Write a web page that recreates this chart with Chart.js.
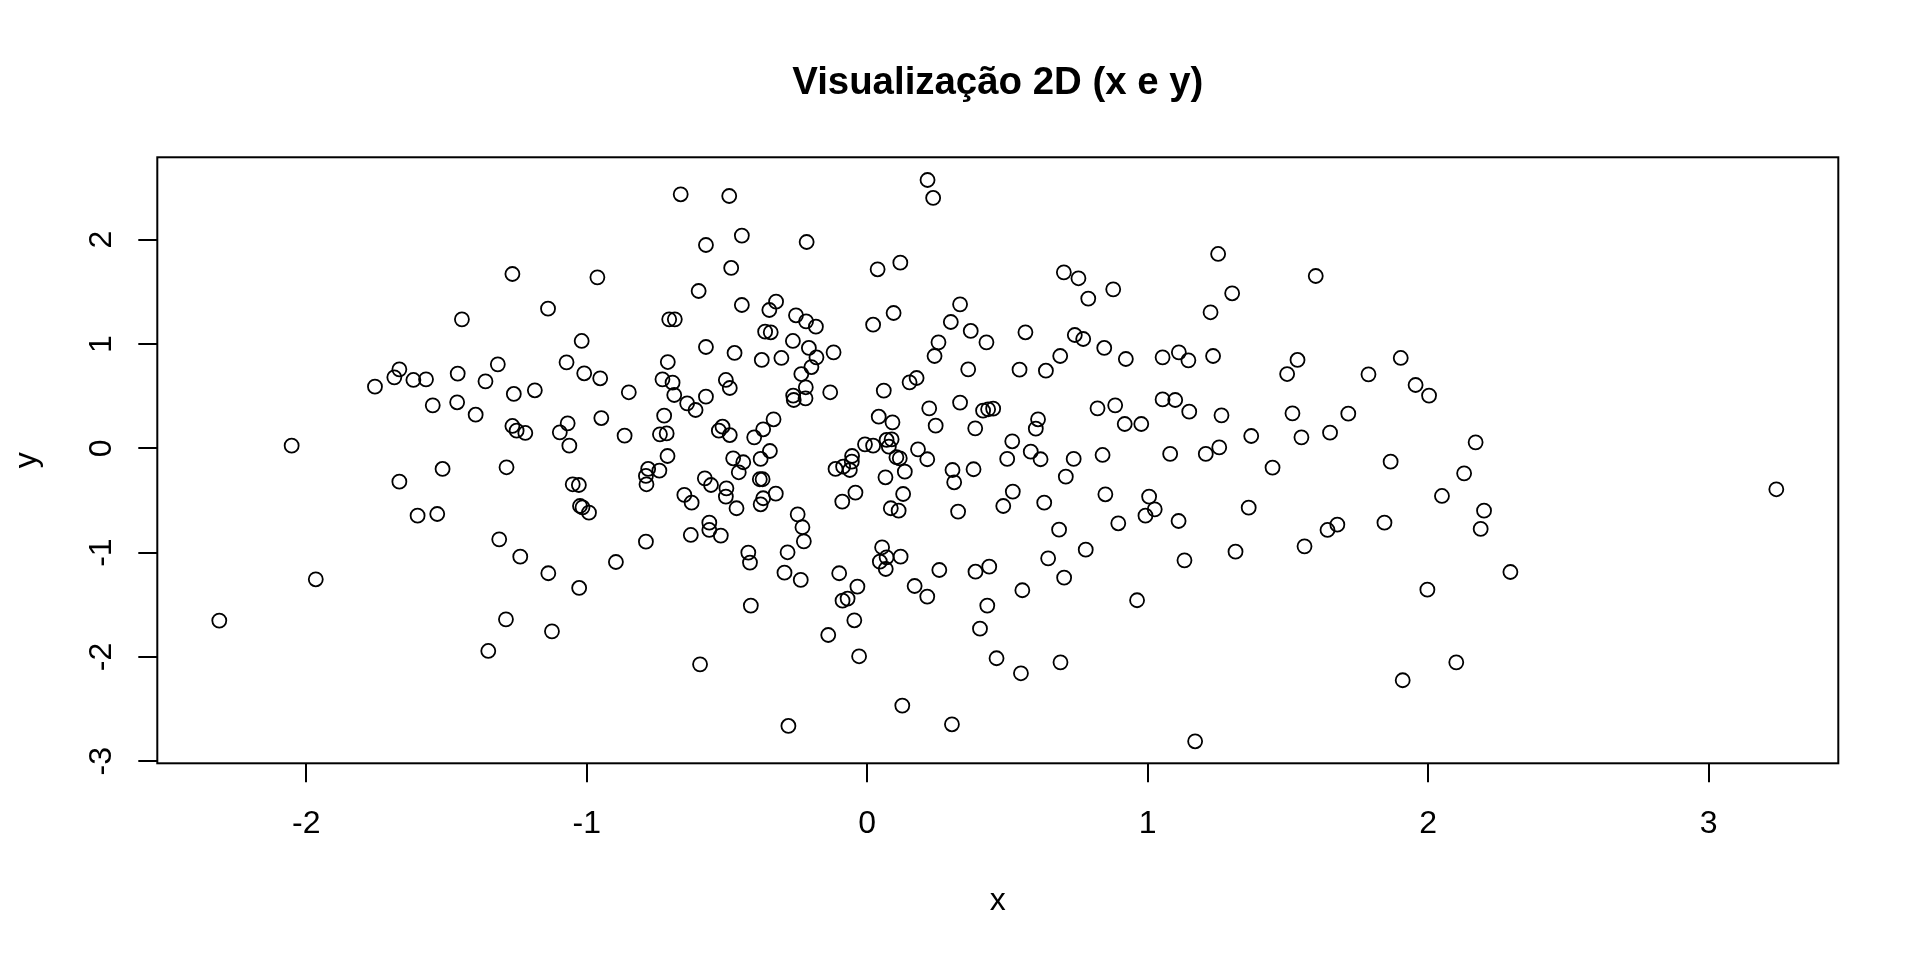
<!DOCTYPE html>
<html>
<head>
<meta charset="utf-8">
<script src="https://cdn.jsdelivr.net/npm/chart.js"></script>
<style>
html,body{margin:0;padding:0;background:#fff;}
#c{display:block;}
</style>
</head>
<body>
<canvas id="c" width="1920" height="960"></canvas>
<script>
const titleText = "Visualização 2D (x e y)";
const xAxisLabel = "x";
const yAxisLabel = "y";
const xTickValues = [-2, -1, 0, 1, 2, 3];
const yTickValues = [-3, -2, -1, 0, 1, 2];
const xRange = [-2.531, 3.462];
const yRange = [-3.020, 2.790];

const xValues = [
  -1.668,-1.686,-1.755,-1.618,-1.573,-1.549,-2.052,
  -0.665,-0.575,-1.265,-0.962,-0.601,-1.138,-1.445,-0.706,-0.686,-1.018,-0.575,-1.317,-1.072,-0.711,-1.460,-1.009,-1.361,-0.952,-0.730,-0.694,-1.260,-1.185,-0.850,-0.688,-0.575,-0.642,-0.612,-1.462,-1.396,-0.948,-0.724,-1.265,-1.250,-1.219,-1.068,-1.096,-1.062,-0.865,-0.739,-0.715,
  0.215,0.235,-0.492,-0.447,-0.216,-0.485,0.037,0.118,-0.447,-0.325,-0.349,-0.254,-0.218,-0.183,0.021,0.094,0.331,0.298,0.369,0.425,0.254,0.240,-0.364,-0.344,-0.265,-0.208,-0.181,-0.120,-0.473,-0.376,-0.306,-0.199,-0.235,-0.504,-0.490,-0.219,-0.264,-0.262,-0.220,-0.132,0.059,0.151,0.176,0.360,0.221,0.331,0.244,0.385,0.413,0.431,0.449,0.041,0.090,-0.334,-0.371,-0.403,-0.529,-0.516,-0.490,-0.008,0.021,0.069,0.087,0.077,0.181,-0.347,
  1.251,0.701,0.753,0.788,0.877,1.301,1.224,0.564,0.740,0.770,0.845,0.922,1.053,1.111,1.145,1.233,0.688,0.543,0.637,1.053,1.098,1.148,1.263,0.884,0.821,0.918,0.977,0.609,0.601,0.517,0.583,1.255,1.369,
  1.599,1.534,1.497,1.787,1.902,1.955,2.003,1.516,1.715,1.548,1.650,2.169,
  -1.668,-1.603,-1.966,-2.310,
  -0.712,-1.514,-1.286,-0.781,-0.789,-0.741,-0.787,-1.050,-1.028,-1.024,-1.015,-0.992,-0.579,-0.557,-0.652,-0.626,-1.533,-0.563,-0.563,-0.629,-0.789,-1.312,-1.237,-1.137,-0.896,-1.027,-1.288,-1.124,-1.351,-0.596,
  -0.478,-0.442,-0.380,-0.458,-0.502,-0.504,-0.466,-0.383,-0.373,-0.371,-0.380,-0.326,-0.248,-0.231,-0.226,-0.522,-0.424,-0.418,-0.284,-0.295,-0.237,-0.415,-0.113,-0.086,-0.062,-0.054,-0.055,0.104,0.116,0.214,0.134,0.065,-0.042,-0.089,0.128,0.084,0.112,0.304,0.310,0.379,0.324,0.053,0.069,0.045,0.066,0.119,-0.100,-0.035,-0.088,-0.070,-0.046,-0.139,-0.029,0.169,0.214,0.257,0.386,0.435,0.428,0.402,0.125,-0.281,0.302,
  0.499,0.618,0.736,0.839,1.080,1.207,1.445,0.708,0.519,0.485,0.631,0.849,1.005,1.025,0.992,0.895,1.110,1.360,0.684,0.779,0.645,0.702,0.553,1.131,1.313,0.962,0.461,0.548,0.689,1.169,
  1.866,2.128,2.049,2.199,2.187,1.844,1.676,1.641,1.559,2.293,1.997,2.100,1.909,
  3.241
];

const yValues = [
  0.757,0.680,0.591,0.655,0.661,0.412,0.025,
  2.435,1.949,1.671,1.639,1.508,1.339,1.236,1.236,1.236,1.029,0.971,0.805,0.824,0.827,0.716,0.719,0.642,0.671,0.661,0.629,0.521,0.556,0.537,0.511,0.495,0.431,0.367,0.441,0.322,0.290,0.313,0.214,0.169,0.147,0.239,0.153,0.025,0.121,0.134,0.143,
  2.572,2.400,2.419,2.039,1.978,1.729,1.716,1.780,1.374,1.406,1.326,1.275,1.217,1.166,1.185,1.297,1.380,1.211,1.125,1.016,1.016,0.885,1.118,1.112,1.029,0.962,0.872,0.920,0.914,0.847,0.866,0.779,0.712,0.655,0.578,0.585,0.505,0.463,0.479,0.537,0.553,0.632,0.674,0.757,0.383,0.438,0.217,0.191,0.361,0.374,0.380,0.303,0.249,0.278,0.182,0.105,0.169,0.207,0.127,0.038,0.025,0.080,0.086,0.016,-0.010,-0.026,
  1.863,1.687,1.630,1.435,1.524,1.486,1.304,1.112,1.086,1.048,0.962,0.856,0.872,0.920,0.843,0.885,0.885,0.754,0.744,0.469,0.463,0.351,0.316,0.412,0.383,0.233,0.233,0.278,0.188,0.067,-0.032,0.009,0.118,
  1.652,0.847,0.712,0.709,0.866,0.607,0.505,0.335,0.332,0.105,0.150,0.057,
  -0.320,-0.646,-1.256,-1.652,
  -0.074,-0.198,-0.182,-0.198,-0.265,-0.214,-0.345,-0.345,-0.352,-0.553,-0.566,-0.617,-0.288,-0.352,-0.447,-0.521,-0.630,-0.713,-0.783,-0.831,-0.895,-0.873,-1.039,-1.198,-1.090,-1.339,-1.640,-1.755,-1.943,-2.071,
  -0.096,-0.134,-0.102,-0.230,-0.384,-0.463,-0.575,-0.297,-0.297,-0.479,-0.537,-0.435,-0.633,-0.757,-0.892,-0.837,-1.000,-1.096,-0.997,-1.192,-1.262,-1.508,-0.198,-0.176,-0.208,-0.074,-0.128,-0.086,-0.096,-0.105,-0.224,-0.278,-0.425,-0.511,-0.438,-0.575,-0.598,-0.208,-0.326,-0.201,-0.607,-0.949,-1.045,-1.087,-1.157,-1.039,-1.198,-1.326,-1.461,-1.441,-1.649,-1.790,-1.994,-1.320,-1.422,-1.167,-1.183,-1.135,-1.508,-1.729,-2.467,-2.662,-2.646,
  -0.102,-0.105,-0.102,-0.064,-0.054,-0.054,-0.185,-0.272,-0.415,-0.553,-0.521,-0.441,-0.463,-0.585,-0.646,-0.719,-0.697,-0.569,-0.780,-0.972,-1.055,-1.240,-1.361,-1.074,-0.991,-1.457,-2.013,-2.157,-2.052,-2.809,
  -0.128,-0.240,-0.457,-0.598,-0.773,-0.713,-0.732,-0.783,-0.940,-1.186,-1.355,-2.052,-2.224,
  -0.393
];

const points = xValues.map((x, i) => ({ x: x, y: yValues[i] }));

const FONT = "'Liberation Sans', Arial, Helvetica, sans-serif";
Chart.defaults.font.family = FONT;
Chart.defaults.color = '#000';

const boxPlugin = {
  id: 'plotBox',
  afterDatasetsDraw(chart) {
    const { ctx, chartArea: a } = chart;
    ctx.save();
    ctx.strokeStyle = '#000';
    ctx.lineWidth = 2;
    ctx.strokeRect(a.left, a.top, a.right - a.left, a.bottom - a.top);
    ctx.restore();
  }
};

const tickGrid = {
  display: true,
  drawOnChartArea: false,
  drawTicks: true,
  tickLength: 19,
  color: '#000',
  tickColor: '#000',
  lineWidth: 2,
  tickWidth: 2
};

new Chart(document.getElementById('c'), {
  type: 'scatter',
  data: {
    datasets: [{
      data: points,
      pointStyle: 'circle',
      pointRadius: 7,
      pointHoverRadius: 7,
      pointBorderWidth: 1.8,
      pointBorderColor: '#000',
      pointBackgroundColor: 'rgba(0,0,0,0)',
      showLine: false,
      clip: false
    }]
  },
  options: {
    responsive: false,
    animation: false,
    events: [],
    layout: { padding: { top: 0, left: 0, right: 81.7, bottom: 0 } },
    plugins: {
      legend: { display: false },
      tooltip: { enabled: false },
      title: {
        display: true,
        text: titleText,
        fullSize: false,
        color: '#000',
        font: { size: 38.4, weight: 'bold', family: FONT },
        padding: { top: 60.3, bottom: 50.9 }
      }
    },
    scales: {
      x: {
        type: 'linear',
        position: 'bottom',
        min: xRange[0],
        max: xRange[1],
        afterBuildTicks: s => { s.ticks = xTickValues.map(v => ({ value: v })); },
        afterFit: s => { s.height = 196.7; },
        grid: tickGrid,
        border: { display: false },
        ticks: {
          color: '#000',
          font: { size: 32, family: FONT },
          padding: 23,
          maxRotation: 0,
          minRotation: 0,
          autoSkip: false,
          callback: v => String(v)
        },
        title: {
          display: true,
          text: xAxisLabel,
          color: '#000',
          font: { size: 32, family: FONT },
          padding: { top: 0, bottom: 40 }
        }
      },
      y: {
        type: 'linear',
        position: 'left',
        min: yRange[0],
        max: yRange[1],
        afterBuildTicks: s => { s.ticks = yTickValues.map(v => ({ value: v })); },
        afterFit: s => { s.width = 157.3; },
        grid: tickGrid,
        border: { display: false },
        ticks: {
          color: '#000',
          font: { size: 32, family: FONT },
          padding: 22,
          minRotation: 90,
          maxRotation: 90,
          crossAlign: 'center',
          autoSkip: false,
          callback: v => String(v)
        },
        title: {
          display: true,
          text: yAxisLabel,
          color: '#000',
          font: { size: 32, family: FONT },
          padding: { top: 8, bottom: 0 }
        }
      }
    }
  },
  plugins: [boxPlugin]
});
</script>
</body>
</html>
